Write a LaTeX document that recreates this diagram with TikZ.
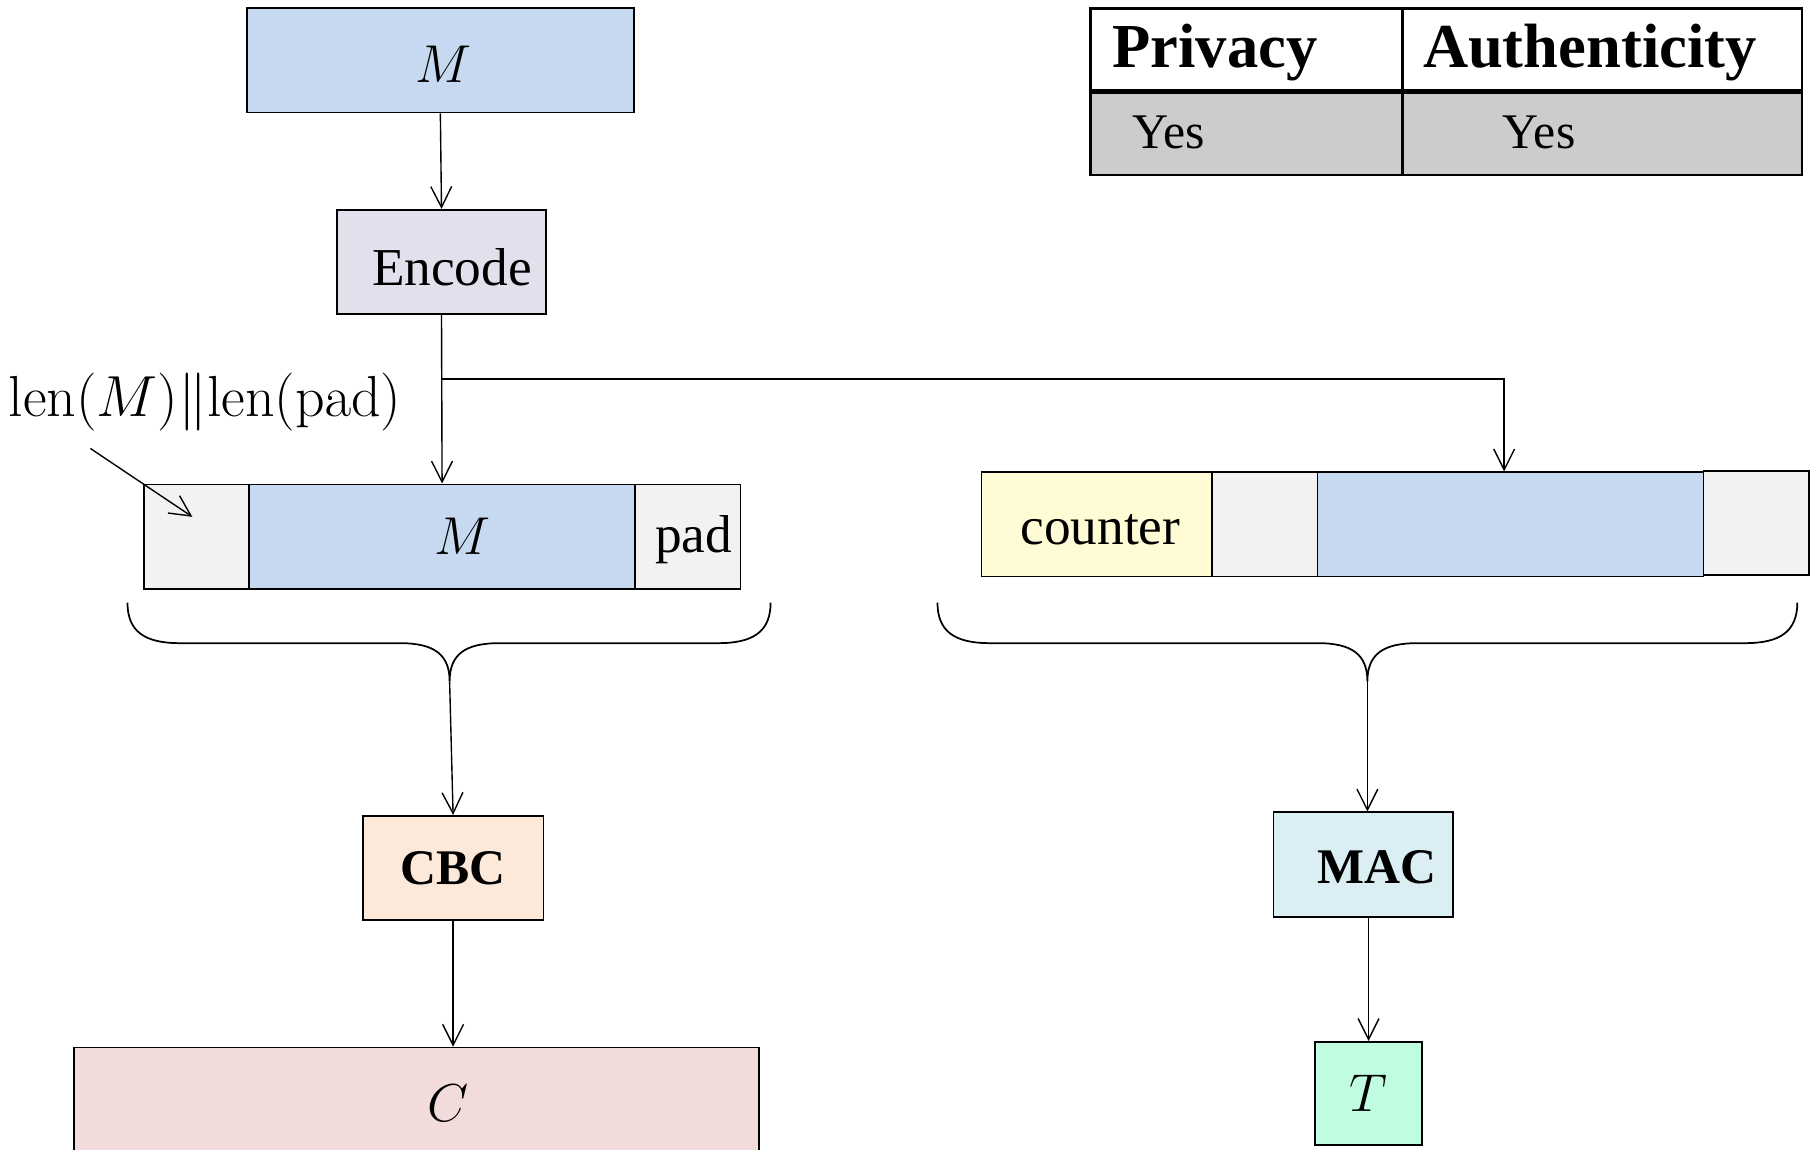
\RequirePackage{fix-cm}
\documentclass[tikz,border=0pt]{standalone}
\usepackage[no-math]{fontspec}
\setmainfont{Liberation Serif}
\usetikzlibrary{arrows.meta,calc}

\definecolor{msgblue}{HTML}{C6D9F0}
\definecolor{enclav}{HTML}{E4DFEC}
\definecolor{cellgray}{HTML}{F2F2F2}
\definecolor{cbcpeach}{HTML}{FDE9D9}
\definecolor{ctpink}{HTML}{F2DCDB}
\definecolor{ctryellow}{HTML}{FFFCD5}
\definecolor{macblue}{HTML}{DBEEF3}
\definecolor{tagmint}{HTML}{C0FCDF}
\definecolor{tablegray}{HTML}{CCCCCC}

\newcommand{\headstrut}{\rule[-6pt]{0pt}{28pt}}

\begin{document}
\begin{tikzpicture}[x=0.5pt,y=-0.5pt,
  box/.style={draw=black, line width=0.75pt, rectangle, inner sep=0pt,
              minimum height=45pt, font=\fontsize{23}{27}\selectfont},
  boldbox/.style={box, font=\fontsize{21.5}{26}\selectfont\bfseries},
  arr/.style={-{Straight Barb[length=9pt,width=9pt]}, line width=0.6pt},
  bracepath/.style={line width=0.75pt},
  cell/.style={draw=black, line width=1.2pt, rectangle, inner sep=0pt, align=left},
  headcell/.style={cell, fill=white, minimum height=35.5pt,
                   font=\fontsize{27}{32}\selectfont\bfseries},
  bodycell/.style={cell, fill=tablegray, minimum height=36.5pt,
                   font=\fontsize{21.5}{26}\selectfont}
]
\useasboundingbox (0,0) rectangle (1568,992);
\begin{scope}
\clip (0,0) rectangle (1568,992);

% ---- left column: encoding and encryption ----
\node[box, fill=msgblue, minimum width=167pt, text height=19pt, text depth=0pt]
  (mtop) at (380,52) {\hspace*{3pt}$M$};
\node[box, fill=enclav, minimum width=90pt, text height=20pt, text depth=0pt]
  (enc) at (381,226) {\hspace*{9pt}Encode};

\node[box, fill=cellgray, minimum width=45.5pt] (lenf) at (169.5,463) {};
\node[box, fill=msgblue, minimum width=166.5pt] (mbar) at (381.5,463) {\hspace*{18pt}$M$};
\node[box, fill=cellgray, minimum width=45.5pt, text height=17pt, text depth=3pt]
  (padf) at (593.5,463) {\hspace*{5pt}pad};

\node[inner sep=0pt, font=\fontsize{25}{30}\selectfont] (lenlab) at (177,347)
  {$\mathrm{len}(M)\|\mathrm{len}(\mathrm{pad})$};
\coordinate (lenfrom) at (78,387);

\node[boldbox, fill=cbcpeach, minimum width=78pt] (cbc) at (391,749) {CBC};
\node[box, fill=ctpink, minimum width=295.5pt, minimum height=48pt] (ct) at (359.5,952)
  {\hspace*{27.5pt}$C$};

% ---- right column: authentication ----
\node[box, fill=ctryellow, minimum width=99.5pt, text height=18.5pt, text depth=1pt]
  (ctr) at (946.5,452.5) {\hspace*{3pt}counter};
\node[box, fill=cellgray, minimum width=45.5pt] (gray2) at (1091.5,452.5) {};
\node[box, fill=msgblue, minimum width=166.5pt] (blue2) at (1303.5,452.5) {};
\node[box, fill=cellgray, minimum width=45.5pt] (gray3) at (1515.5,451.5) {};

\node[boldbox, fill=macblue, minimum width=77.5pt, text height=17pt, text depth=1pt]
  (mac) at (1176.5,746) {\hspace*{11.5pt}MAC};
\node[box, fill=tagmint, minimum width=46pt, minimum height=44.5pt] (tag) at (1181,943.5) {$T$};

% ---- braces ----
\coordinate (lbtip) at (388,588);
\draw[bracepath] (110,520) .. controls (110,545) and (125,555) .. (155,555)
  -- (345,555) .. controls (375,555) and (388,565) .. (lbtip)
  .. controls (388,565) and (401,555) .. (431,555)
  -- (620,555) .. controls (650,555) and (665,545) .. (665,520);

\coordinate (rbtip) at (1180,588);
\draw[bracepath] (809,520) .. controls (809,545) and (824,555) .. (854,555)
  -- (1137,555) .. controls (1167,555) and (1180,565) .. (rbtip)
  .. controls (1180,565) and (1193,555) .. (1223,555)
  -- (1506,555) .. controls (1536,555) and (1551,545) .. (1551,520);

% ---- connectors ----
\coordinate (split) at (381,327);
\draw[arr] (mtop.south) -- (enc.north);
\draw[arr] (enc.south) -- (mbar.north);
\draw[arr] (split) -| ([xshift=-2.75pt]blue2.north);
\draw[arr] (lenfrom) -- ($(lenf.center)+(-3.5,-17)$);
\draw[arr] (lbtip) -- (cbc.north);
\draw[arr] (cbc.south) -- (cbc.south |- ct.north);
\draw[arr] (rbtip) -- (rbtip |- mac.north);
\draw[arr] (tag.north |- mac.south) -- (tag.north);

% ---- properties table ----
\node[headcell, minimum width=134.5pt, text width=134.5pt] (h1) at (1075.5,42.5)
  {\hspace*{9.5pt}\headstrut Privacy};
\node[headcell, minimum width=172.5pt, text width=172.5pt] (h2) at (1382.5,42.5)
  {\hspace*{9pt}\headstrut Authenticity};
\node[bodycell, minimum width=134.5pt, text width=134.5pt] (b1) at (1075.5,114.5)
  {\hspace*{18pt}Yes};
\node[bodycell, minimum width=172.5pt, text width=172.5pt] (b2) at (1382.5,114.5)
  {\hspace*{43.5pt}Yes};
\draw[line width=1.8pt] (h1.south west) -- (h2.south east);
\end{scope}
\end{tikzpicture}
\end{document}
